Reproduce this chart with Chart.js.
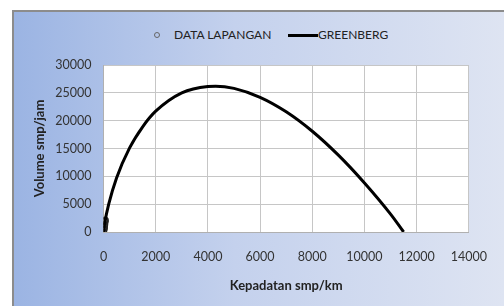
<!DOCTYPE html>
<html>
<head>
<meta charset="utf-8">
<script src="https://cdn.jsdelivr.net/npm/chart.js@4"></script>
<style>
  html, body { margin: 0; padding: 0; background: #fff; }
  body { width: 504px; height: 306px; position: relative; overflow: hidden; font-family: Lato, "Liberation Sans", sans-serif; }
  #box {
    position: absolute; left: 12px; top: 10px; right: 0; bottom: 0;
    border-top: 2px solid #8c8c8c; border-left: 2px solid #8c8c8c;
    background: linear-gradient(to right, #9bb4e3 0%, #c4d1ed 45%, #dee4f2 100%);
  }
  #wrap { position: absolute; left: 0; top: 0; width: 490px; height: 294px; }
  #legend { position: absolute; top: 16px; left: 0; width: 490px; height: 14px; font-size: 12px; color: #222; }
  #legend span { position: absolute; white-space: nowrap; line-height: 14px; }
  .dot { width: 4px; height: 4px; border: 1px solid #666; border-radius: 50%; top: 4px; }
  .ln { width: 30px; height: 0; border-top: 3px solid #000; top: 6px; }
</style>
</head>
<body>
<div id="box">
  <div id="legend">
    <span class="dot" style="left:140px"></span>
    <span style="left:160px">DATA LAPANGAN</span>
    <span class="ln" style="left:274px"></span>
    <span style="left:304px">GREENBERG</span>
  </div>
  <div id="wrap"><canvas id="chart"></canvas></div>
</div>
<script>
// data lapangan (kepadatan, volume)
const lapanganK = [12, 20, 28, 40, 52, 60];
const lapanganQ = [420, 700, 1000, 1400, 1900, 2100];

// kurva greenberg
const greenbergK = [0, 50, 200, 500, 1000, 1500, 2000, 3000, 4000, 4300, 5000, 6000, 7000, 8000, 9000, 10000, 11000, 11500];
const greenbergQ = [0, 1700, 5000, 9700, 15100, 18900, 21700, 25000, 26150, 26200, 25800, 24200, 21600, 18100, 13800, 8800, 3200, 0];

const xTicks = [0, 2000, 4000, 6000, 8000, 10000, 12000, 14000];
const yTicks = [0, 5000, 10000, 15000, 20000, 25000, 30000];

const lapanganData = lapanganK.map((k, i) => ({ x: k, y: lapanganQ[i] }));
const greenbergData = greenbergK.map((k, i) => ({ x: k, y: greenbergQ[i] }));

// latar putih untuk area plot
const plotBg = {
  id: 'plotBg',
  beforeDraw(chart) {
    const { ctx, chartArea } = chart;
    ctx.save();
    ctx.fillStyle = '#ffffff';
    ctx.fillRect(chartArea.left, chartArea.top, chartArea.right - chartArea.left, chartArea.bottom - chartArea.top);
    ctx.restore();
  }
};

const tickFont = { family: 'Lato', size: 12.5 };
const titleFont = { family: 'Lato', size: 13, weight: 'bold' };

new Chart(document.getElementById('chart'), {
  type: 'scatter',
  data: {
    datasets: [
      {
        label: 'GREENBERG',
        data: greenbergData,
        showLine: true,
        borderColor: '#000',
        borderWidth: 3,
        pointRadius: 0,
        cubicInterpolationMode: 'monotone'
      },
      {
        label: 'DATA LAPANGAN',
        data: lapanganData,
        pointStyle: 'circle',
        pointRadius: 3,
        borderWidth: 1.5,
        borderColor: '#222',
        backgroundColor: 'rgba(90,90,90,0.4)'
      }
    ]
  },
  options: {
    responsive: true,
    maintainAspectRatio: false,
    animation: false,
    layout: { padding: { left: 0, top: 53, right: 23, bottom: 0 } },
    plugins: { legend: { display: false }, tooltip: { enabled: false } },
    scales: {
      x: {
        type: 'linear',
        min: 0, max: 14000,
        afterBuildTicks: s => { s.ticks = xTicks.map(v => ({ value: v })); },
        afterFit: s => { s.height = 74; },
        grid: { color: '#c6c6c6', drawTicks: false },
        border: { color: '#b0b0b0' },
        ticks: { font: tickFont, color: '#333', padding: 17, maxRotation: 0, callback: v => String(v) },
        title: { display: true, text: 'Kepadatan smp/km', font: titleFont, color: '#222', padding: { top: 0, bottom: 12 } }
      },
      y: {
        type: 'linear',
        min: 0, max: 30000,
        afterBuildTicks: s => { s.ticks = yTicks.map(v => ({ value: v })); },
        afterFit: s => { s.width = 89.5; },
        grid: { color: '#c6c6c6', drawTicks: false },
        border: { color: '#b0b0b0' },
        ticks: { font: tickFont, color: '#333', padding: 12, callback: v => String(v) },
        title: { display: true, text: 'Volume smp/jam', font: titleFont, color: '#222', padding: { top: 18, bottom: 0 } }
      }
    }
  },
  plugins: [plotBg]
});
</script>
</body>
</html>
